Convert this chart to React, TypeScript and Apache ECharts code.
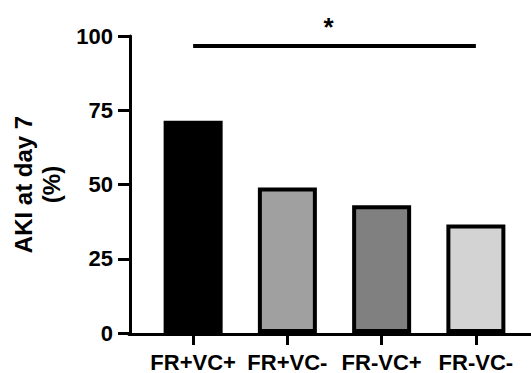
import React, { useEffect, useRef } from "react";
import * as echarts from "echarts";

const categories = ["FR+VC+", "FR+VC-", "FR-VC+", "FR-VC-"];
const values = [71.5, 49, 43, 36.5];
const barColors = ["#000000", "#a0a0a0", "#808080", "#d3d3d3"];
const yTicks = [0, 25, 50, 75, 100];
const sigStart = 0;
const sigEnd = 3;
const sigLevel = 96.6;
const sigLabel = "*";

const FONT = "'Liberation Sans', Arial, Helvetica, sans-serif";

export default function App() {
  const ref = useRef<HTMLDivElement>(null);
  useEffect(() => {
    if (!ref.current) return;
    const chart = echarts.init(ref.current, null, { renderer: "svg" });
    chart.setOption({
      animation: false,
      backgroundColor: "#ffffff",
      grid: [
        { left: 146, right: 8, top: 36, bottom: 39 },
        { left: 129, right: 0, top: 36, bottom: 39 },
      ],
      xAxis: [
        {
          type: "category",
          gridIndex: 0,
          data: categories,
          axisLine: { show: false },
          axisTick: {
            show: true,
            alignWithLabel: true,
            length: 12,
            lineStyle: { color: "#000", width: 3 },
          },
          axisLabel: {
            interval: 0,
            hideOverlap: false,
            margin: 18,
            color: "#000",
            fontFamily: FONT,
            fontWeight: "bold",
            fontSize: 22,
          },
        },
        {
          type: "value",
          gridIndex: 1,
          min: 0,
          max: 1,
          axisLine: { show: true, lineStyle: { color: "#000", width: 3 } },
          axisTick: { show: false },
          axisLabel: { show: false },
          splitLine: { show: false },
        },
      ],
      yAxis: [
        {
          type: "value",
          gridIndex: 0,
          min: 0,
          max: 100,
          interval: 25,
          offset: 16,
          name: "AKI at day 7\n(%)",
          nameLocation: "middle",
          nameRotate: 90,
          nameGap: 64,
          nameTextStyle: {
            color: "#000",
            fontFamily: FONT,
            fontWeight: "bold",
            fontSize: 24,
            lineHeight: 28,
          },
          axisLine: { show: true, lineStyle: { color: "#000", width: 3 } },
          axisTick: { show: true, length: 12, lineStyle: { color: "#000", width: 3 } },
          axisLabel: {
            margin: 17,
            color: "#000",
            fontFamily: FONT,
            fontWeight: "bold",
            fontSize: 22,
            formatter: (v: number) => (yTicks.includes(v) ? String(v) : ""),
          },
          splitLine: { show: false },
        },
        {
          type: "value",
          gridIndex: 1,
          show: false,
        },
      ],
      series: [
        {
          type: "bar",
          xAxisIndex: 0,
          yAxisIndex: 0,
          barWidth: 59,
          data: values.map((v, i) => ({
            value: v,
            itemStyle: { color: barColors[i], borderColor: "#000", borderWidth: 4 },
          })),
          markLine: {
            silent: true,
            symbol: "none",
            lineStyle: { color: "#000", width: 4, type: "solid" },
            label: {
              show: true,
              position: "insideMiddleTop",
              formatter: sigLabel,
              color: "#000",
              fontFamily: FONT,
              fontWeight: "bold",
              fontSize: 26,
              distance: 6,
              offset: [-6, 0],
            },
            data: [
              [
                { coord: [sigStart, sigLevel] },
                { coord: [sigEnd, sigLevel] },
              ],
            ],
          },
        },
      ],
    });
    return () => chart.dispose();
  }, []);
  return <div ref={ref} style={{ width: 531, height: 373, position: "absolute", left: 0, top: 0 }} />;
}
